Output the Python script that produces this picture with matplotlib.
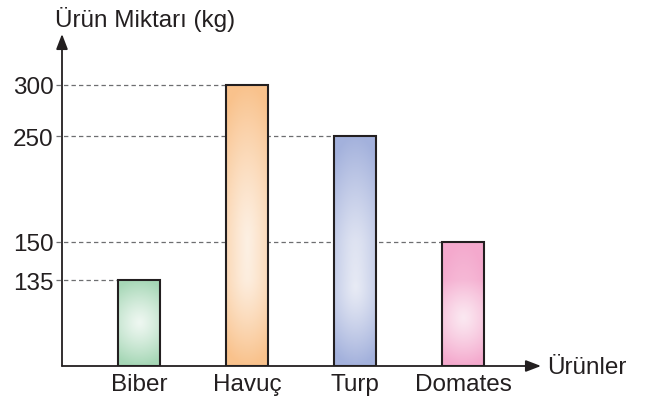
import numpy as np
import matplotlib
matplotlib.use('Agg')
import matplotlib.pyplot as plt
from matplotlib.colors import to_rgb

plt.rcParams['font.family'] = ['Liberation Sans', 'DejaVu Sans']

# Data
products = ['Biber', 'Havuç', 'Turp', 'Domates']
amounts = [135, 300, 250, 150]
yticks = [135, 150, 250, 300]
edge_colors = ['#a6d7b6', '#f9c28c', '#a3b1dc', '#f4a9cd']
center_colors = ['#eef7f1', '#fdf0e3', '#e8ebf5', '#fbe8f1']

# The picture's value axis is schematic, not linear: map values to drawn heights
anchor_vals = np.array([0, 135, 150, 250, 300, 400])
anchor_pos = np.array([0, 86, 124, 230, 281, 383])


def fwd(v):
    return np.interp(v, anchor_vals, anchor_pos)


def inv(p):
    return np.interp(p, anchor_pos, anchor_vals)


fig = plt.figure(figsize=(6.51, 4.06), dpi=100)
ax = fig.add_axes([62 / 651, 39 / 406, 479 / 651, 332 / 406])
ax.set_yscale('function', functions=(fwd, inv))

x = np.arange(len(products))
width = 0.39
ink = '#231f20'
fs = 17.5

bars = ax.bar(x, amounts, width=width, facecolor='none', edgecolor=ink,
              linewidth=1.5, zorder=3)

# radial gradient inside each bar
ny, nx = 200, 60
yy, xx = np.mgrid[0:ny, 0:nx]
r = np.sqrt(((xx - (nx - 1) / 2) / (nx * 0.9)) ** 2 + ((yy - (ny - 1) / 2) / (ny / 2)) ** 2)
r = np.clip(r, 0, 1) ** 1.2
for i, (bar, v) in enumerate(zip(bars, amounts)):
    c0 = np.array(to_rgb(center_colors[i]))
    c1 = np.array(to_rgb(edge_colors[i]))
    img = c0 + (c1 - c0) * r[..., None]
    im = ax.imshow(img, extent=(i - width / 2, i + width / 2, 0, v), origin='lower',
                   aspect='auto', zorder=2, interpolation='bilinear')
    im.set_clip_path(bar)

# dashed guide lines from the axis to each bar
x_start = -0.77
for i, v in enumerate(amounts):
    ax.hlines(v, x_start, i - width / 2, colors='#6d6e70', linestyles=(0, (3.5, 2.5)),
              linewidth=0.9, zorder=1, clip_on=False)

ax.set_xlim(-0.713, 3.722)
ax.set_ylim(0, 350)

for s in ax.spines.values():
    s.set_visible(False)

ax.set_xticks(x)
ax.set_xticklabels(products)
ax.set_yticks(yticks)
ax.set_yticklabels([str(t) for t in yticks])
ax.tick_params(axis='x', length=0, pad=5, labelsize=fs, colors=ink)
ax.tick_params(axis='y', length=0, pad=6, labelsize=fs, colors=ink)

arrow = dict(arrowstyle='-|>,head_length=0.65,head_width=0.25', color=ink,
             lw=1.3, mutation_scale=14, shrinkA=0, shrinkB=0)
ax.annotate('', xy=(0, 1), xytext=(0, 0), xycoords='axes fraction',
            textcoords='axes fraction', arrowprops=arrow)
ax.annotate('', xy=(1, 0), xytext=(0, 0), xycoords='axes fraction',
            textcoords='axes fraction', arrowprops=arrow)

fig.text(55 / 651, 1 - 19 / 406, 'Ürün Miktarı (kg)', fontsize=fs, color=ink,
         ha='left', va='center')
fig.text(547 / 651, 1 - 368 / 406, 'Ürünler', fontsize=fs, color=ink,
         ha='left', va='center')

fig.savefig('out.png', dpi=100)
